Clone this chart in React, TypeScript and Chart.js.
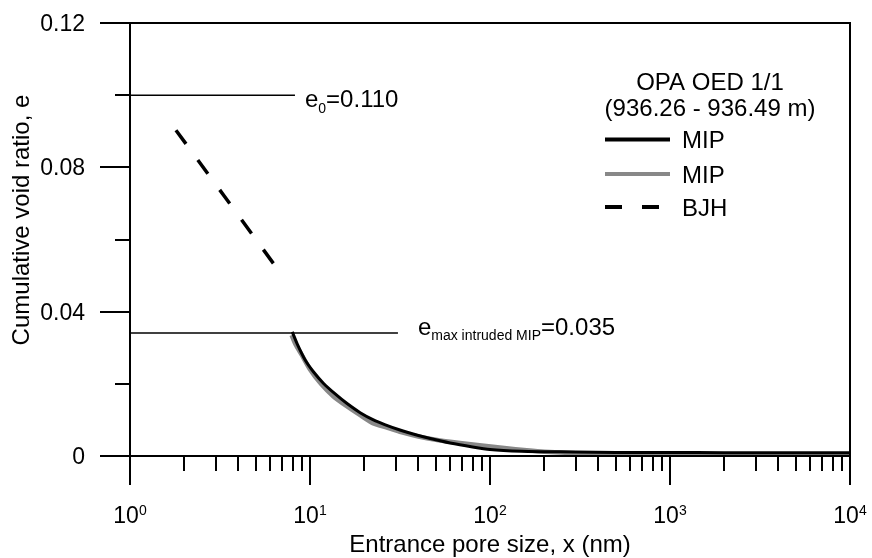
import React, { useEffect, useRef } from "react";
import { Chart, registerables } from "chart.js";

Chart.register(...registerables);

const FONT = '"Liberation Sans", Arial, Helvetica, sans-serif';

// ---- data ----
const mipBlackX = [7.97, 8.5, 9.4, 10.5, 11.9, 13.8, 16, 19, 22.5, 26, 31.6, 40, 46, 60, 80, 100, 150, 200, 300, 500, 1000, 2000, 5000, 10000];
const mipBlackY = [0.0344, 0.031, 0.0266, 0.0232, 0.0201, 0.0172, 0.0146, 0.012, 0.01, 0.0087, 0.0072, 0.0057, 0.0049, 0.0036, 0.0025, 0.0018, 0.0013, 0.0012, 0.0011, 0.001, 0.001, 0.0009, 0.0009, 0.0009];

const mipGrayX = [7.9, 8.3, 9.0, 10, 11.5, 13.5, 16, 19, 22.5, 27, 32, 40, 50, 68, 90, 120, 160, 200, 300, 400, 500, 1000, 3000, 10000];
const mipGrayY = [0.0335, 0.031, 0.028, 0.024, 0.02, 0.0165, 0.0138, 0.0113, 0.009, 0.0078, 0.0066, 0.0054, 0.0045, 0.0036, 0.0029, 0.0022, 0.0016, 0.0012, 0.00075, 0.00045, 0.0003, 0.0003, 0.0003, 0.0003];

const bjhX = [1.8, 3.4, 6.47];
const bjhY = [0.0903, 0.0715, 0.0524];

const e0LineX = [1, 8.25];
const e0LineY = [0.1, 0.1];
const eMaxLineX = [1, 30.8];
const eMaxLineY = [0.0341, 0.0341];

const seriesLabels = ["MIP", "MIP", "BJH"];
const legendTitle = ["OPA OED 1/1", "(936.26 - 936.49 m)"];

const xDecades = [1, 10, 100, 1000, 10000];
const xDecadeExponents = ["0", "1", "2", "3", "4"];
const yMajorTicks = [0, 0.04, 0.08, 0.12];
const yMajorLabels = ["0", "0.04", "0.08", "0.12"];
const yMinorTicks = [0.02, 0.06, 0.1];

const xTitle = "Entrance pore size, x (nm)";
const yTitle = "Cumulative void ratio, e";

const zip = (xs: number[], ys: number[]) => xs.map((x, i) => ({ x, y: ys[i] }));

function drawSubLabel(ctx: CanvasRenderingContext2D, x: number, baseline: number, main: string, sub: string, rest: string) {
  ctx.textAlign = "left";
  ctx.textBaseline = "alphabetic";
  ctx.font = `24px ${FONT}`;
  ctx.fillText(main, x, baseline);
  let cx = x + ctx.measureText(main).width;
  ctx.font = `14px ${FONT}`;
  ctx.fillText(sub, cx, baseline + 5.5);
  cx += ctx.measureText(sub).width;
  ctx.font = `24px ${FONT}`;
  ctx.fillText(rest, cx, baseline);
}

const framePlugin = {
  id: "frame",
  afterDatasetsDraw(chart: any) {
    const ctx: CanvasRenderingContext2D = chart.ctx;
    const { left, right, top, bottom } = chart.chartArea;
    const xs = chart.scales.x;
    const ys = chart.scales.y;
    ctx.save();
    ctx.strokeStyle = "#000";
    ctx.fillStyle = "#000";
    ctx.lineWidth = 2;
    ctx.lineCap = "butt";
    ctx.beginPath();
    ctx.moveTo(left - 30, top);
    ctx.lineTo(right + 1, top);
    ctx.moveTo(left - 30, bottom);
    ctx.lineTo(right + 1, bottom);
    ctx.moveTo(left, top);
    ctx.lineTo(left, bottom + 29);
    ctx.moveTo(right, top);
    ctx.lineTo(right, bottom + 29);
    // y ticks
    yMajorTicks.forEach((v) => {
      const py = Math.round(ys.getPixelForValue(v));
      ctx.moveTo(left - 30, py);
      ctx.lineTo(left, py);
    });
    yMinorTicks.forEach((v) => {
      const py = Math.round(ys.getPixelForValue(v));
      ctx.moveTo(left - 15, py);
      ctx.lineTo(left, py);
    });
    // x ticks
    xDecades.forEach((d, i) => {
      const px = Math.round(xs.getPixelForValue(d));
      ctx.moveTo(px, bottom);
      ctx.lineTo(px, bottom + 29);
      if (i < xDecades.length - 1) {
        for (let m = 2; m <= 9; m++) {
          const mx = Math.round(xs.getPixelForValue(d * m));
          ctx.moveTo(mx, bottom);
          ctx.lineTo(mx, bottom + 15);
        }
      }
    });
    ctx.stroke();

    // y tick labels
    ctx.font = `23px ${FONT}`;
    ctx.textAlign = "right";
    ctx.textBaseline = "alphabetic";
    yMajorTicks.forEach((v, i) => {
      const py = ys.getPixelForValue(v);
      ctx.fillText(yMajorLabels[i], left - 45, py + 8);
    });

    // x tick labels 10^n
    xDecades.forEach((d, i) => {
      const px = xs.getPixelForValue(d);
      ctx.font = `23px ${FONT}`;
      const wb = ctx.measureText("10").width;
      ctx.font = `14px ${FONT}`;
      const wsup = ctx.measureText(xDecadeExponents[i]).width;
      const start = px - (wb + wsup) / 2;
      ctx.textAlign = "left";
      ctx.font = `23px ${FONT}`;
      ctx.fillText("10", start, bottom + 67);
      ctx.font = `14px ${FONT}`;
      ctx.fillText(xDecadeExponents[i], start + wb, bottom + 59);
    });

    // axis titles
    ctx.font = `24px ${FONT}`;
    ctx.textAlign = "center";
    ctx.fillText(xTitle, (left + right) / 2, bottom + 96);
    ctx.save();
    ctx.translate(29, 220);
    ctx.rotate(-Math.PI / 2);
    ctx.fillText(yTitle, 0, 0);
    ctx.restore();

    // annotations
    const e0End = xs.getPixelForValue(e0LineX[1]);
    const e0Y = ys.getPixelForValue(e0LineY[0]);
    drawSubLabel(ctx, e0End + 10, e0Y + 12, "e", "0", "=0.110");
    const emEnd = xs.getPixelForValue(eMaxLineX[1]);
    const emY = ys.getPixelForValue(eMaxLineY[0]);
    drawSubLabel(ctx, emEnd + 20, emY + 2, "e", "max intruded MIP", "=0.035");

    // legend
    const cx = right - 140;
    ctx.font = `24px ${FONT}`;
    ctx.textAlign = "center";
    ctx.fillText(legendTitle[0], cx, 90);
    ctx.fillText(legendTitle[1], cx, 116);
    const rows = [139.5, 174, 207];
    [0, 1, 2].forEach((di, r) => {
      const ds = chart.data.datasets[di];
      ctx.save();
      ctx.strokeStyle = ds.borderColor;
      ctx.lineWidth = 4;
      ctx.setLineDash(ds.borderDash || []);
      ctx.beginPath();
      ctx.moveTo(605, rows[r]);
      ctx.lineTo(670, rows[r]);
      ctx.stroke();
      ctx.restore();
      ctx.textAlign = "left";
      ctx.font = `24px ${FONT}`;
      ctx.fillText(seriesLabels[r], 682, rows[r] + 8.5);
    });
    ctx.restore();
  },
};

export default function App() {
  const ref = useRef<HTMLCanvasElement | null>(null);
  useEffect(() => {
    if (!ref.current) return;
    const chart = new Chart(ref.current, {
      type: "line",
      data: {
        datasets: [
          { label: seriesLabels[0], data: zip(mipBlackX, mipBlackY), borderColor: "#000", borderWidth: 3, pointRadius: 0, tension: 0.2 },
          { label: seriesLabels[1], data: zip(mipGrayX, mipGrayY), borderColor: "#888888", borderWidth: 4.5, pointRadius: 0, tension: 0.2 },
          { label: seriesLabels[2], data: zip(bjhX, bjhY), borderColor: "#000", borderWidth: 3.5, borderDash: [17, 20], pointRadius: 0 },
          { label: "e0", data: zip(e0LineX, e0LineY), borderColor: "#000", borderWidth: 1.5, pointRadius: 0 },
          { label: "emax", data: zip(eMaxLineX, eMaxLineY), borderColor: "#000", borderWidth: 1.5, pointRadius: 0 },
        ],
      } as any,
      options: {
        responsive: false,
        animation: false,
        events: [],
        layout: { padding: { left: 130, right: 22, top: 23, bottom: 102 } },
        scales: {
          x: { type: "logarithmic", min: 1, max: 10000, display: false },
          y: { type: "linear", min: 0, max: 0.12, display: false },
        },
        plugins: { legend: { display: false }, tooltip: { enabled: false } },
      } as any,
      plugins: [framePlugin],
    });
    return () => chart.destroy();
  }, []);
  return (
    <div style={{ position: "absolute", left: 0, top: 0, width: 872, height: 558, background: "#fff" }}>
      <canvas ref={ref} width={872} height={558} style={{ display: "block" }} />
    </div>
  );
}
